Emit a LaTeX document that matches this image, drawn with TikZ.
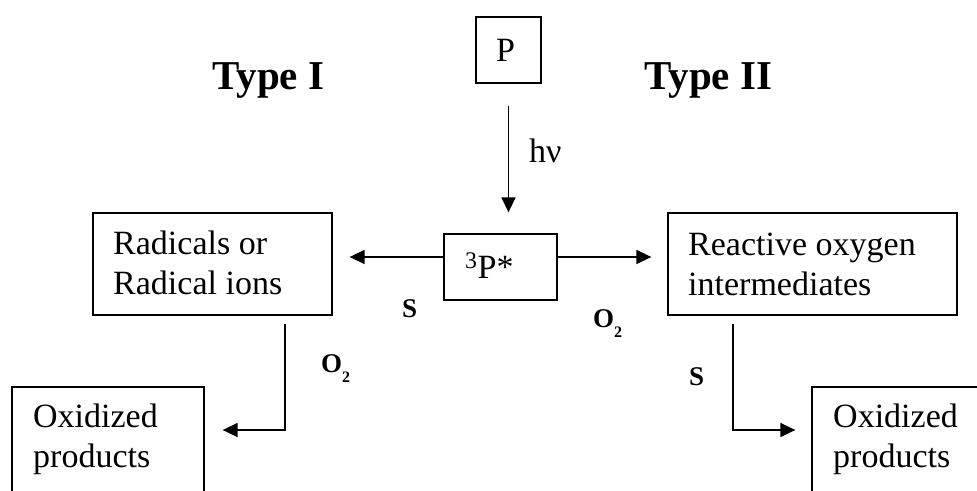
\documentclass[tikz,border=0pt]{standalone}
\usepackage{fontspec}
\setmainfont{Liberation Serif}
\usetikzlibrary{arrows.meta}

\tikzset{
  box/.style={draw, line width=1.3pt, inner sep=0pt, minimum width=#1},
  txt/.style={inner sep=0pt, anchor=base west, align=left,
              font=\fontsize{34}{40}\selectfont},
  title/.style={inner sep=0pt, anchor=base west,
                font=\fontsize{41}{41}\selectfont\bfseries},
  lbl/.style={inner sep=0pt, anchor=base west,
              font=\fontsize{27}{27}\selectfont\bfseries},
  arr/.style={line width=1.5pt, -{Triangle[length=15pt,width=14pt]}},
}
\newcommand{\oxy}{O\raisebox{-10pt}{\fontsize{16}{16}\selectfont 2}}

\begin{document}
\begin{tikzpicture}[x=1pt,y=-1pt]
  \useasboundingbox (0,0) rectangle (977,490);
  \clip (0,0) rectangle (977,490);

  % headings
  \node[title] (t1) at (212,89) {Type I};
  \node[title] (t2) at (644,89) {Type II};

  % boxes
  \node[box=65pt,  minimum height=66pt]  (p)   at (508.5,50)  {};
  \node[box=113pt, minimum height=66pt]  (s)   at (500.5,267) {};
  \node[box=239pt, minimum height=102pt] (rad) at (212.5,264) {};
  \node[box=289pt, minimum height=102pt] (roi) at (812.5,264) {};
  \node[box=192pt, minimum height=133pt] (ox1) at (108,453.5) {};
  \node[box=198pt, minimum height=133pt] (ox2) at (911,453.5) {};

  % box texts (multi-line nodes sit on the baseline of their last line)
  \node[txt] (pt)   at (496,61)  {P};
  \node[txt] (st)   at (465,278) {\textsuperscript{3}P*};
  \node[txt] (radt) at (113,294) {Radicals or\\Radical ions};
  \node[txt] (roit) at (688,295) {Reactive oxygen\\intermediates};
  \node[txt] (ox1t) at (33,467)  {Oxidized\\products};
  \node[txt] (ox2t) at (833,467) {Oxidized\\products};

  % connectors
  \coordinate (yl) at (0,257);
  \coordinate (cl) at (285,430);
  \coordinate (cr) at (733,430);
  \draw[arr, shorten <=22pt, shorten >=21pt] (p.south) -- (p.south |- s.north);
  \draw[arr, shorten >=17pt] (s.west |- yl) -- (rad.east |- yl);
  \draw[arr, shorten >=16pt] (s.east |- yl) -- (roi.west |- yl);
  \draw[arr, shorten <=8pt, shorten >=18pt] (rad.south -| cl) |- (ox1.east |- cl);
  \draw[arr, shorten <=8pt, shorten >=16pt] (roi.south -| cr) |- (ox2.west |- cr);

  % reaction labels
  \node[txt] (hv) at (529,162) {h\symbol{"03BD}};
  \node[lbl] (sl) at (402,317) {S};
  \node[lbl] (o2r) at (593,327) {\oxy};
  \node[lbl] (o2l) at (321,372) {\oxy};
  \node[lbl] (sr) at (689,385) {S};
\end{tikzpicture}
\end{document}
